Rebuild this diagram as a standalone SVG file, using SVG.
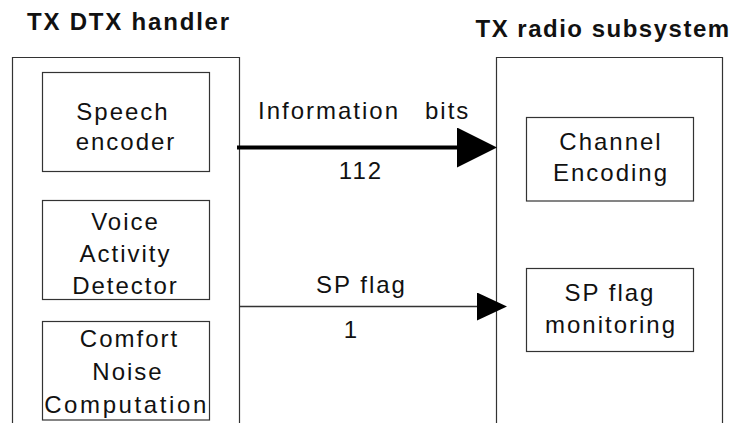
<svg xmlns="http://www.w3.org/2000/svg" width="733" height="423" viewBox="0 0 733 423">
<style>
  .frame { fill: none; stroke: #333; stroke-width: 1.2; }
  .box { fill: #fff; stroke: #333; stroke-width: 1.2; }
  .t { font-family: "Liberation Sans", Arial, sans-serif; font-size: 24px; fill: #111; letter-spacing: 2px; }
  .c { text-anchor: middle; }
  .title { font-family: "Liberation Sans", Arial, sans-serif; font-size: 24px; font-weight: bold; fill: #111; letter-spacing: 1.5px; }
  .thick { stroke: #000; stroke-width: 4; fill: none; }
  .thin { stroke: #333; stroke-width: 1.3; fill: none; }
</style>
<defs>
  <marker id="bigHead" markerUnits="userSpaceOnUse" markerWidth="40" markerHeight="40" refX="13" refY="20" orient="auto">
    <path d="M0,0 L40,20 L0,40 Z" fill="#000"/>
  </marker>
  <marker id="smallHead" markerUnits="userSpaceOnUse" markerWidth="30" markerHeight="28" refX="10" refY="14" orient="auto">
    <path d="M0,0 L30,14 L0,28 Z" fill="#000"/>
  </marker>
</defs>
<rect width="733" height="423" fill="#fff"/>

<g id="tx-dtx-handler">
  <text class="title" x="27" y="30" style="letter-spacing:1.8px">TX DTX handler</text>
  <path class="frame" d="M12.5,424 V57.5 H239.5 V424"/>
</g>

<g id="speech-encoder">
  <rect class="box" x="42.5" y="72.5" width="167" height="99"/>
  <text class="t c" x="123" y="119.5">Speech</text>
  <text class="t c" x="126" y="150">encoder</text>
</g>

<g id="voice-activity-detector">
  <rect class="box" x="42.5" y="200.5" width="167" height="99"/>
  <text class="t c" x="125.5" y="229.5">Voice</text>
  <text class="t c" x="125.5" y="262">Activity</text>
  <text class="t c" x="125.5" y="294">Detector</text>
</g>

<g id="comfort-noise-computation">
  <rect class="box" x="42.5" y="321.5" width="167" height="98.5"/>
  <text class="t c" x="129.5" y="346.5">Comfort</text>
  <text class="t c" x="128" y="380">Noise</text>
  <text class="t c" x="126.5" y="413" style="letter-spacing:2.6px">Computation</text>
</g>

<g id="tx-radio-subsystem">
  <text class="title" x="475.5" y="36.5">TX radio subsystem</text>
  <path class="frame" d="M496.5,424 V57.5 H722.5 V424"/>
</g>

<g id="channel-encoding">
  <rect class="box" x="526.5" y="117.5" width="167" height="83.5"/>
  <text class="t c" x="611" y="150">Channel</text>
  <text class="t c" x="611" y="180.5">Encoding</text>
</g>

<g id="sp-flag-monitoring">
  <rect class="box" x="526.5" y="268.5" width="167" height="83"/>
  <text class="t c" x="610" y="301">SP flag</text>
  <text class="t c" x="611" y="333">monitoring</text>
</g>

<g id="connectors">
  <line class="thick" x1="237" y1="147.5" x2="470" y2="147.5" marker-end="url(#bigHead)"/>
  <text class="t" x="258" y="119">Information</text>
  <text class="t" x="425" y="119">bits</text>
  <text class="t c" x="361" y="179">112</text>

  <line class="thin" x1="239.5" y1="306.5" x2="487" y2="306.5" marker-end="url(#smallHead)"/>
  <text class="t c" x="361.5" y="292.5">SP flag</text>
  <text class="t c" x="351.5" y="338">1</text>
</g>
</svg>
